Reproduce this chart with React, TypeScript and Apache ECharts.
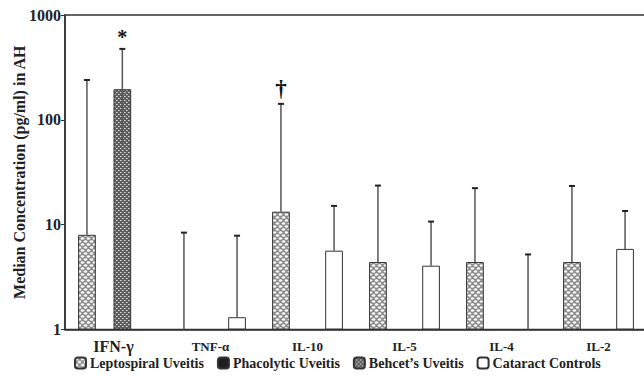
import React, { useEffect, useRef } from 'react';
import * as echarts from 'echarts';

const categories = ['IFN-γ', 'TNF-α', 'IL-10', 'IL-5', 'IL-4', 'IL-2'];
const seriesNames = ['Leptospiral Uveitis', 'Phacolytic Uveitis', 'Behcet’s Uveitis', 'Cataract Controls'];
const leptospiral: (number | null)[] = [8.0, null, 13.3, 4.4, 4.4, 4.4];
const phacolytic: (number | null)[] = [null, null, null, null, null, null];
const behcet: (number | null)[] = [196, null, null, null, null, null];
const cataract: (number | null)[] = [null, 1.31, 5.65, 4.06, null, 5.87];
const leptospiralErrHigh: (number | null)[] = [240, 8.4, 142, 23.6, 22.3, 23.4];
const phacolyticErrHigh: (number | null)[] = [null, null, null, null, null, null];
const behcetErrHigh: (number | null)[] = [475, null, null, null, null, null];
const behcetErrLow: (number | null)[] = [57.6, null, null, null, null, null];
const cataractErrHigh: (number | null)[] = [null, 7.85, 15.1, 10.7, 5.2, 13.5];
const yTicks = [1, 10, 100, 1000];
const annotations = [
  { series: 2, category: 0, text: '*' },
  { series: 0, category: 2, text: '†' },
];

const values = [leptospiral, phacolytic, behcet, cataract];
const errHigh = [leptospiralErrHigh, phacolyticErrHigh, behcetErrHigh, cataractErrHigh];
const errLow: (number | null)[][] = [[], [], behcetErrLow, []];

const FONT = '"Liberation Serif", "Times New Roman", serif';
const GAP = 0.27;

function makePattern(kind: string) {
  const c = document.createElement('canvas');
  if (kind === 'lepto') {
    c.width = 6; c.height = 6;
    const ctx = c.getContext('2d')!;
    ctx.fillStyle = '#8a8a8a';
    ctx.fillRect(0, 0, 6, 6);
    ctx.fillStyle = '#ffffff';
    ctx.beginPath(); ctx.ellipse(1.5, 1.5, 1.9, 1.2, 0, 0, Math.PI * 2); ctx.fill();
    ctx.beginPath(); ctx.ellipse(4.5, 4.5, 1.9, 1.2, 0, 0, Math.PI * 2); ctx.fill();
    ctx.beginPath(); ctx.ellipse(-1.5, 4.5, 1.9, 1.2, 0, 0, Math.PI * 2); ctx.fill();
    ctx.beginPath(); ctx.ellipse(7.5, 1.5, 1.9, 1.2, 0, 0, Math.PI * 2); ctx.fill();
  } else {
    c.width = 4; c.height = 4;
    const ctx = c.getContext('2d')!;
    ctx.fillStyle = '#5e5e5e';
    ctx.fillRect(0, 0, 4, 4);
    ctx.fillStyle = '#d8d8d8';
    ctx.fillRect(0, 0, 1.6, 1);
    ctx.fillRect(2, 2, 1.6, 1);
  }
  return { image: c.toDataURL(), imageWidth: c.width, imageHeight: c.height, repeat: 'repeat' };
}

export default function App() {
  const ref = useRef<HTMLDivElement>(null);
  useEffect(() => {
    document.body.style.margin = '0';
    const chart = echarts.init(ref.current!, null, { renderer: 'svg' });
    const fills: any[] = [makePattern('lepto'), '#1e1e1e', makePattern('behcet'), '#ffffff'];

    const errData: any[] = [];
    errHigh.forEach((arr, s) => {
      arr.forEach((hi, c) => {
        if (hi == null) return;
        const lo = errLow[s][c] ?? values[s][c] ?? 1;
        const ann = annotations.find((a) => a.series === s && a.category === c);
        errData.push({ value: [c, lo, hi, s], ann: ann ? ann.text : '' });
      });
    });

    const barSeries = seriesNames.map((name, s) => ({
      name,
      type: 'bar',
      data: values[s].map((v) => (v == null ? '-' : v)),
      barGap: '0%',
      barCategoryGap: GAP * 100 + '%',
      itemStyle: { color: fills[s], borderColor: '#333', borderWidth: 1 },
    }));

    chart.setOption({
      animation: false,
      grid: {
        left: 65, top: 15, width: 582, height: 314.5,
        show: true, borderColor: '#333', borderWidth: 1.5,
        outerBoundsMode: 'none', containLabel: false,
      },
      legend: {
        data: seriesNames,
        left: 74,
        top: 356,
        itemWidth: 11,
        itemHeight: 11,
        itemGap: 13,
        padding: 0,
        textStyle: { fontFamily: FONT, fontWeight: 'bold', fontSize: 14, color: '#222', padding: [0, 0, 0, -1] },
      },
      xAxis: {
        type: 'category',
        data: categories,
        axisLine: { lineStyle: { color: '#333', width: 1.5 } },
        axisTick: { length: 4, lineStyle: { color: '#333' } },
        axisLabel: {
          interval: 0,
          margin: 9,
          color: '#222',
          formatter: (v: string, i: number) => (i === 0 ? `{big|${v}}` : `{small|${v}}`),
          rich: {
            big: { fontFamily: FONT, fontWeight: 'bold', fontSize: 16, lineHeight: 16 },
            small: { fontFamily: FONT, fontWeight: 'bold', fontSize: 13, lineHeight: 16 },
          },
        },
      },
      yAxis: {
        type: 'log',
        logBase: 10,
        min: yTicks[0],
        max: yTicks[yTicks.length - 1],
        name: 'Median Concentration (pg/ml) in AH',
        nameLocation: 'middle',
        nameGap: 38,
        nameMoveOverlap: false,
        nameTextStyle: { fontFamily: FONT, fontWeight: 'bold', fontSize: 16, color: '#222' },
        axisLine: { show: true, lineStyle: { color: '#333', width: 1.5 } },
        axisTick: { show: true, length: 4, lineStyle: { color: '#333' } },
        splitLine: { show: false },
        axisLabel: {
          margin: 4, fontFamily: FONT, fontWeight: 'bold', fontSize: 16, color: '#222',
          formatter: (v: number) => String(Math.round(v)),
        },
      },
      series: [
        ...barSeries,
        {
          type: 'custom',
          data: errData,
          encode: { x: 0, y: [1, 2] },
          z: 5,
          renderItem: (params: any, api: any) => {
            const c = api.value(0);
            const lo = api.value(1);
            const hi = api.value(2);
            const s = api.value(3);
            let band = api.size([1, 1], [c, hi])[0];
            if (!isFinite(band)) band = 582 / categories.length;
            const w = (band * (1 - GAP)) / 4;
            const pHi = api.coord([c, hi]);
            const pLo = api.coord([c, lo]);
            const x = pHi[0] + (s - 1.5) * w;
            const children: any[] = [
              { type: 'line', shape: { x1: x, y1: pLo[1], x2: x, y2: pHi[1] }, style: { stroke: '#555', lineWidth: 1.5 } },
              { type: 'line', shape: { x1: x - 3, y1: pHi[1], x2: x + 3, y2: pHi[1] }, style: { stroke: '#222', lineWidth: 2 } },
            ];
            const ann = errData[params.dataIndex].ann;
            if (ann) {
              const isStar = ann === '*';
              children.push({
                type: 'text',
                style: {
                  text: ann,
                  x,
                  y: pHi[1] - (isStar ? 2 : 4),
                  align: 'center',
                  verticalAlign: 'bottom',
                  font: `bold ${isStar ? 20 : 23}px ${FONT}`,
                  fill: '#111',
                },
              });
            }
            return { type: 'group', children };
          },
        },
      ],
    });
    return () => chart.dispose();
  }, []);
  return <div ref={ref} style={{ width: 644, height: 376 }} />;
}
